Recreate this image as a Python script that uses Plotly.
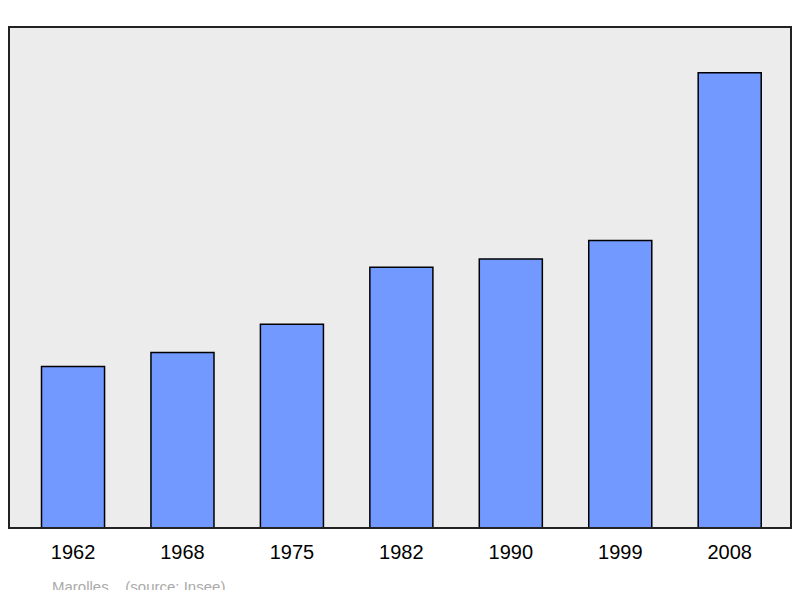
import plotly.graph_objects as go

years = ['1962', '1968', '1975', '1982', '1990', '1999', '2008']
population = [297, 323, 375, 480, 495, 529, 838]

fig = go.Figure(go.Bar(
    x=years, y=population,
    width=0.576,
    marker=dict(color='#7199ff', line=dict(color='black', width=1.5)),
    hoverinfo='x+y',
))

# value labels above the bars
labels = [dict(x=yr, y=v, text=str(v), showarrow=False, yanchor='bottom', yshift=12,
               font=dict(size=18, color='black')) for yr, v in zip(years, population)]

# page has an 8px body margin, so the figure is 784x582 placed at (8, 8)
fig.update_layout(
    width=784, height=582,
    margin=dict(l=1, r=1, t=19, b=62),
    paper_bgcolor='white',
    plot_bgcolor='#ececec',
    font=dict(family='Liberation Sans, Arial, sans-serif'),
    showlegend=False,
    xaxis=dict(range=[-0.585, 6.56], showgrid=False, ticks='', ticklabelstandoff=10,
               tickfont=dict(size=20, color='black')),
    yaxis=dict(range=[0, 922], showgrid=False, showticklabels=False, zeroline=False),
    shapes=[dict(type='rect', xref='paper', yref='paper', x0=0, x1=1, y0=0, y1=1,
                 line=dict(color='#222', width=2))],
    annotations=labels + [dict(text='Marolles    (source: Insee)', xref='paper', yref='paper',
                      x=0.052, y=-0.095, xanchor='left', yanchor='top', showarrow=False,
                      font=dict(size=15, color='#aaaaaa'))],
)

fig.write_html("out.html")
